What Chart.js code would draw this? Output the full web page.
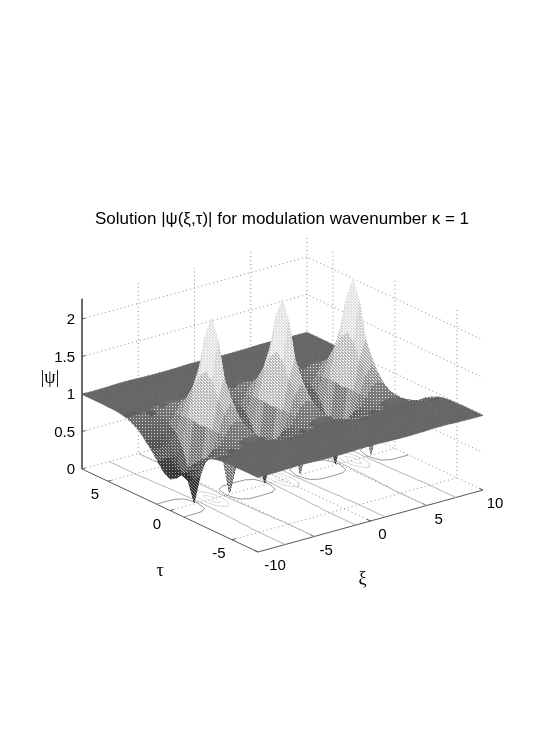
<!DOCTYPE html>
<html><head><meta charset="utf-8">
<style>html,body{margin:0;padding:0;background:#fff}canvas{display:block}</style>
<script src="https://cdn.jsdelivr.net/npm/chart.js@4"></script>
</head><body><canvas id="c" width="534" height="756"></canvas>
<script>
const titleText = "Solution |ψ(ξ,τ)| for modulation wavenumber κ = 1";
const xiTicks = [-10,-5,0,5,10];
const tauTicks = [-5,0,5];
const zTicks = [0,0.5,1,1.5,2];
const zTickLabels = ["0","0.5","1","1.5","2"];
const contourLevels = [0.6,1,1.5,2];
const contourGrays = [140,170,210,220];
const xi = [-10,-9.42,-8.9,-8.38,-7.85,-7.33,-6.81,-6.28,-5.76,-5.24,-4.71,-4.19,-3.67,-3.14,-2.62,-2.09,-1.57,-1.05,-0.52,0,0.52,1.05,1.57,2.09,2.62,3.14,3.67,4.19,4.71,5.24,5.76,6.28,6.81,7.33,7.85,8.38,8.9,9.42,10];
const tau = [7.1,5.5,5,4.5,4,3.5,3,2.5,2,1.5,1,0.5,0,-0.5,-1,-1.5,-2,-2.5,-3,-3.5,-4,-4.5,-5,-5.5,-7.1];
const psiAt0 = [.42,.45,.42,.33,.02,1.02,1.72,2.4,1.72,1.02,.02,.33,.42,.45,.42,.33,.02,1.02,1.72,2.4,1.72,1.02,.02,.33,.42,.45,.42,.33,.02,1.02,1.72,2.4,1.72,1.02,.02,.33,.42,.45,.42];
const psiAt05 = [.47,.5,.47,.4,.42,1.04,1.62,2.15,1.62,1.04,.42,.4,.47,.5,.47,.4,.42,1.04,1.62,2.15,1.62,1.04,.42,.4,.47,.5,.47,.4,.42,1.04,1.62,2.15,1.62,1.04,.42,.4,.47,.5,.47];
const psiAt1 = [.58,.58,.58,.58,.68,1.04,1.42,1.68,1.42,1.04,.68,.58,.58,.58,.58,.58,.68,1.04,1.42,1.68,1.42,1.04,.68,.58,.58,.58,.58,.58,.68,1.04,1.42,1.68,1.42,1.04,.68,.58,.58,.58,.58];
const psiAt15 = [.69,.68,.69,.72,.83,1.03,1.26,1.38,1.26,1.03,.83,.72,.69,.68,.69,.72,.83,1.03,1.26,1.38,1.26,1.03,.83,.72,.69,.68,.69,.72,.83,1.03,1.26,1.38,1.26,1.03,.83,.72,.69,.68,.69];
const psiAt2 = [.78,.77,.78,.82,.9,1.02,1.15,1.2,1.15,1.02,.9,.82,.78,.77,.78,.82,.9,1.02,1.15,1.2,1.15,1.02,.9,.82,.78,.77,.78,.82,.9,1.02,1.15,1.2,1.15,1.02,.9,.82,.78,.77,.78];
const psiAt25 = [.87,.86,.87,.9,.95,1.015,1.09,1.11,1.09,1.015,.95,.9,.87,.86,.87,.9,.95,1.015,1.09,1.11,1.09,1.015,.95,.9,.87,.86,.87,.9,.95,1.015,1.09,1.11,1.09,1.015,.95,.9,.87,.86,.87];
const psiAt3 = [.92,.92,.92,.94,.97,1.01,1.05,1.06,1.05,1.01,.97,.94,.92,.92,.92,.94,.97,1.01,1.05,1.06,1.05,1.01,.97,.94,.92,.92,.92,.94,.97,1.01,1.05,1.06,1.05,1.01,.97,.94,.92,.92,.92];
const psiAt35 = [.96,.96,.96,.97,.985,1.01,1.03,1.04,1.03,1.01,.985,.97,.96,.96,.96,.97,.985,1.01,1.03,1.04,1.03,1.01,.985,.97,.96,.96,.96,.97,.985,1.01,1.03,1.04,1.03,1.01,.985,.97,.96,.96,.96];
const psiAt4 = [.98,.98,.98,.98,.99,1.005,1.02,1.02,1.02,1.005,.99,.98,.98,.98,.98,.98,.99,1.005,1.02,1.02,1.02,1.005,.99,.98,.98,.98,.98,.98,.99,1.005,1.02,1.02,1.02,1.005,.99,.98,.98,.98,.98];
const psiAt45 = [.99,.99,.99,.99,.995,1.005,1.01,1.015,1.01,1.005,.995,.99,.99,.99,.99,.99,.995,1.005,1.01,1.015,1.01,1.005,.995,.99,.99,.99,.99,.99,.995,1.005,1.01,1.015,1.01,1.005,.995,.99,.99,.99,.99];
const psiAt5 = [.99,.99,.99,.995,.997,1.003,1.005,1.01,1.005,1.003,.997,.995,.99,.99,.99,.995,.997,1.003,1.005,1.01,1.005,1.003,.997,.995,.99,.99,.99,.995,.997,1.003,1.005,1.01,1.005,1.003,.997,.995,.99,.99,.99];
const psiAt55 = [.995,.995,.995,.998,.998,1.002,1.005,1.005,1.005,1.002,.998,.998,.995,.995,.995,.998,.998,1.002,1.005,1.005,1.005,1.002,.998,.998,.995,.995,.995,.998,.998,1.002,1.005,1.005,1.005,1.002,.998,.998,.995,.995,.995];
const psiRows = [psiAt55,psiAt55,psiAt5,psiAt45,psiAt4,psiAt35,psiAt3,psiAt25,psiAt2,psiAt15,psiAt1,psiAt05,psiAt0,psiAt05,psiAt1,psiAt15,psiAt2,psiAt25,psiAt3,psiAt35,psiAt4,psiAt45,psiAt5,psiAt55,psiAt55];

const TMAX=7.1, ZTOP=2.27, ZCOL=2.5;
const px=(x,t)=>258+(x+10)/20*225-(t+TMAX)/(2*TMAX)*176;
const py=(x,t,z)=>552-(x+10)/20*62-(t+TMAX)/(2*TMAX)*83-75*z;
const P=(x,t,z)=>({x:px(x,t),y:py(x,t,z)});

const patCache={};
const gr=v=>{v=Math.round(Math.min(255,v));return "rgb("+v+","+v+","+v+")";};
function facePattern(g,n){
  const key=g+"_"+n; if(patCache[key]) return patCache[key];
  if(n===0){patCache[key]=gr(g);return patCache[key];}
  const w=Math.min(1,g/106), t=n/4;
  const base=g+(255-g)*0.35*t*w, dot=g+(255-g)*(0.3+0.55*w);
  const cv=document.createElement("canvas");cv.width=3;cv.height=3;
  const c=cv.getContext("2d");c.fillStyle=gr(base);c.fillRect(0,0,3,3);
  const order=[[1,1],[0,0],[2,2],[1,0],[2,1],[0,2],[2,0],[0,1],[1,2]];
  c.fillStyle=gr(dot);
  for(let i=0;i<n;i++)c.fillRect(order[i][0],order[i][1],1,1);
  const pat=document.getElementById("c").getContext("2d").createPattern(cv,"repeat");
  patCache[key]=pat;return pat;
}
const line=(pts,color,w,dash)=>({type:"scatter",data:pts,showLine:true,borderColor:color,borderWidth:w,borderDash:dash||[],pointRadius:0,tension:0,fill:false});

const ds=[];
const GRID="#888", DOT=[1,3], AX="#555";
// wall & floor grid
for(const z of zTicks.slice(1)) ds.push(line([P(-10,TMAX,z),P(10,TMAX,z),P(10,-TMAX,z)],GRID,1,DOT));
for(const x of xiTicks.slice(1,4)) ds.push(line([P(x,-TMAX,0),P(x,TMAX,0),P(x,TMAX,ZTOP)],GRID,1,DOT));
for(const t of tauTicks) ds.push(line([P(-10,t,0),P(10,t,0),P(10,t,ZTOP)],GRID,1,DOT));
ds.push(line([P(-10,TMAX,0),P(10,TMAX,0),P(10,-TMAX,0)],GRID,1,DOT));
ds.push(line([P(10,TMAX,0),P(10,TMAX,ZTOP)],GRID,1,DOT));
// axes
ds.push(line([P(-10,TMAX,ZTOP),P(-10,TMAX,0),P(-10,-TMAX,0),P(10,-TMAX,0)],AX,1));
for(const z of zTicks) ds.push(line([P(-10,TMAX,z),P(-9.7,TMAX,z)],AX,1));
for(const x of xiTicks) ds.push(line([P(x,-TMAX,0),P(x,-TMAX+0.3,0)],AX,1));
for(const t of tauTicks) ds.push(line([P(-10,t,0),P(-9.7,t,0)],AX,1));
// floor contours from the grid
contourLevels.forEach((lv,li)=>{
  const pts=[];
  const cross=(x1,t1,v1,x2,t2,v2)=>{const f=(lv-v1)/(v2-v1);return P(x1+f*(x2-x1),t1+f*(t2-t1),0);};
  for(let r=0;r<tau.length-1;r++)for(let c=0;c<xi.length-1;c++){
    const a=psiRows[r][c],b=psiRows[r][c+1],d=psiRows[r+1][c],e=psiRows[r+1][c+1];
    const hit=[];
    if((a-lv)*(b-lv)<0)hit.push(cross(xi[c],tau[r],a,xi[c+1],tau[r],b));
    if((b-lv)*(e-lv)<0)hit.push(cross(xi[c+1],tau[r],b,xi[c+1],tau[r+1],e));
    if((e-lv)*(d-lv)<0)hit.push(cross(xi[c+1],tau[r+1],e,xi[c],tau[r+1],d));
    if((d-lv)*(a-lv)<0)hit.push(cross(xi[c],tau[r+1],d,xi[c],tau[r],a));
    for(let i=0;i+1<hit.length;i+=2){pts.push(hit[i],hit[i+1],{x:NaN,y:NaN});}
  }
  ds.push(Object.assign(line(pts,gr(contourGrays[li]),0.9),{spanGaps:false}));
});
// surface, far to near
for(let r=0;r<tau.length-1;r++)for(let c=xi.length-2;c>=0;c--){
  const a=psiRows[r][c],b=psiRows[r][c+1],d=psiRows[r+1][c],e=psiRows[r+1][c+1];
  const zm=(a+b+d+e)/4;
  const g=Math.round(Math.min(255,zm/ZCOL*255)/6)*6;
  const sx=Math.abs((b+e-a-d)/2)/(xi[c+1]-xi[c]), st=Math.abs((a+b-d-e)/2)/(tau[r]-tau[r+1]);
  const s=Math.max(sx,st);
  const n=s<0.06?0:Math.min(4,Math.ceil(s*5));
  const pat=facePattern(Math.min(g,255),n);
  const pts=[P(xi[c],tau[r],a),P(xi[c+1],tau[r],b),P(xi[c+1],tau[r+1],e),P(xi[c],tau[r+1],d),P(xi[c],tau[r],a)];
  const q=line(pts,pat,0.7);q.faceFill=pat;ds.push(q);
}
ds.reverse(); // Chart.js paints the first dataset last

const facePlugin={id:"faces",beforeDatasetDraw(chart,args){
  const d=chart.data.datasets[args.index];if(!d.faceFill)return;
  const pts=args.meta.data,ctx=chart.ctx;ctx.save();ctx.beginPath();
  pts.forEach((p,i)=>i?ctx.lineTo(p.x,p.y):ctx.moveTo(p.x,p.y));
  ctx.closePath();ctx.fillStyle=d.faceFill;ctx.fill();ctx.restore();
}};
const labelPlugin={id:"labels3d",afterDraw(chart){
  const X=chart.scales.x,Y=chart.scales.y,ctx=chart.ctx;
  const put=(s,p,dx,dy,al,font)=>{ctx.font=font||"15px 'Liberation Sans'";ctx.textAlign=al||"center";ctx.textBaseline="middle";ctx.fillStyle="#000";ctx.fillText(s,X.getPixelForValue(p.x)+dx,Y.getPixelForValue(p.y)+dy);};
  ctx.save();
  zTicks.forEach((z,i)=>put(zTickLabels[i],P(-10,TMAX,z),-7,1,"right"));
  tauTicks.forEach(t=>put(String(t),P(-10,t,0),-13,14));
  xiTicks.forEach(x=>put(String(x),P(x,-TMAX,0),x===-10?17:12,14));
  put("|ψ|",P(-10,TMAX,1),-32,-16,"center","18px 'Liberation Serif'");
  put("τ",P(-10,0,0),-10,61,"center","18px 'Liberation Serif'");
  put("ξ",P(0,-TMAX,0),-8,58,"center","18px 'Liberation Serif'");
  ctx.restore();
}};
new Chart(document.getElementById("c"),{
  type:"scatter",
  data:{datasets:ds},
  plugins:[facePlugin,labelPlugin],
  options:{responsive:false,animation:false,events:[],normalized:true,
    layout:{padding:{left:30}},
    scales:{x:{type:"linear",display:false,min:30,max:534},y:{type:"linear",display:false,reverse:true,min:230,max:756}},
    plugins:{legend:{display:false},tooltip:{enabled:false},
      title:{display:true,fullSize:false,text:titleText,color:"#000",font:{family:"'Liberation Sans'",size:17,weight:"normal"},padding:{top:209,bottom:0.6}}}
  }
});
</script></body></html>
